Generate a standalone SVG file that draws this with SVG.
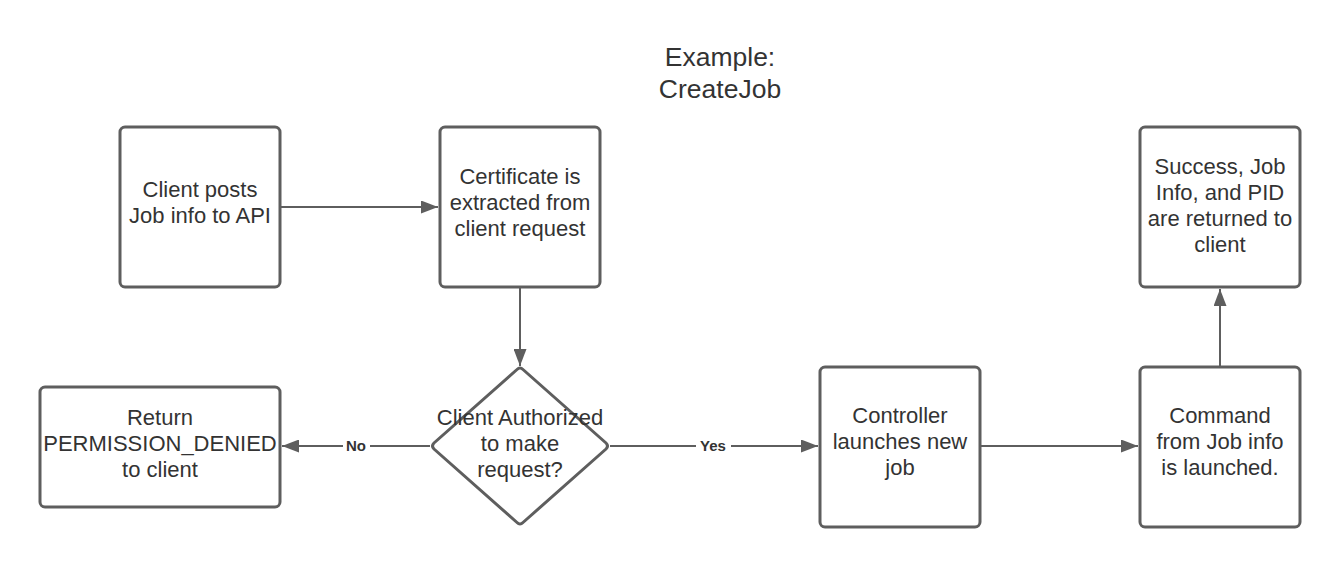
<svg xmlns="http://www.w3.org/2000/svg" width="1340" height="567" viewBox="0 0 1340 567">
<style>
.node{fill:#fff;stroke:#5e5e5e;stroke-width:3}
.t{font-family:"Liberation Sans",Arial,sans-serif;font-size:22px;fill:#333;text-anchor:middle}
.title{font-family:"Liberation Sans",Arial,sans-serif;font-size:26.5px;fill:#333;text-anchor:middle}
.c{stroke:#5e5e5e;stroke-width:2;fill:none;marker-end:url(#ah)}
.lbl{font-family:"Liberation Sans",Arial,sans-serif;font-size:15px;font-weight:bold;fill:#333;text-anchor:middle}
</style>
<defs>
<marker id="ah" viewBox="0 0 10 10" refX="10" refY="5" markerWidth="17" markerHeight="13" markerUnits="userSpaceOnUse" orient="auto" preserveAspectRatio="none">
<path d="M0,0 L10,5 L0,10 z" fill="#5e5e5e"/>
</marker>
</defs>
<rect width="1340" height="567" fill="#fff"/>
<g id="title">
<text class="title" x="720" y="66">Example:</text>
<text class="title" x="720" y="98">CreateJob</text>
</g>
<g id="connectors">
<line class="c" x1="281" y1="207" x2="438" y2="207"/>
<line class="c" x1="520" y1="288" x2="520" y2="366"/>
<line class="c" x1="430" y1="446" x2="282" y2="446"/>
<line class="c" x1="610" y1="446" x2="818" y2="446"/>
<line class="c" x1="981" y1="446" x2="1138" y2="446"/>
<line class="c" x1="1220" y1="366" x2="1220" y2="289"/>
<rect x="343" y="436" width="27" height="18" fill="#fff"/>
<text class="lbl" x="356" y="451">No</text>
<rect x="696" y="436" width="35" height="18" fill="#fff"/>
<text class="lbl" x="713" y="451">Yes</text>
</g>
<g id="n1">
<rect class="node" x="120" y="127" width="160" height="160" rx="5"/>
<text class="t" x="200" y="197">Client posts</text>
<text class="t" x="200" y="223">Job info to API</text>
</g>
<g id="n2">
<rect class="node" x="440" y="127" width="160" height="160" rx="5"/>
<text class="t" x="520" y="184">Certificate is</text>
<text class="t" x="520" y="210">extracted from</text>
<text class="t" x="520" y="236">client request</text>
</g>
<g id="n3">
<path class="node" d="M517,369.5 Q520,366.5 523,369.5 L606,443 Q609,446 606,449 L523,522.5 Q520,525.5 517,522.5 L434,449 Q431,446 434,443 Z"/>
<text class="t" x="520" y="425">Client Authorized</text>
<text class="t" x="520" y="451">to make</text>
<text class="t" x="520" y="477">request?</text>
</g>
<g id="n4">
<rect class="node" x="40" y="387" width="240" height="120" rx="5"/>
<text class="t" x="160" y="425">Return</text>
<text class="t" x="160" y="451">PERMISSION_DENIED</text>
<text class="t" x="160" y="477">to client</text>
</g>
<g id="n5">
<rect class="node" x="820" y="367" width="160" height="160" rx="5"/>
<text class="t" x="900" y="423">Controller</text>
<text class="t" x="900" y="449">launches new</text>
<text class="t" x="900" y="475">job</text>
</g>
<g id="n6">
<rect class="node" x="1140" y="367" width="160" height="160" rx="5"/>
<text class="t" x="1220" y="423">Command</text>
<text class="t" x="1220" y="449">from Job info</text>
<text class="t" x="1220" y="475">is launched.</text>
</g>
<g id="n7">
<rect class="node" x="1140" y="127" width="160" height="160" rx="5"/>
<text class="t" x="1220" y="174">Success, Job</text>
<text class="t" x="1220" y="200">Info, and PID</text>
<text class="t" x="1220" y="226">are returned to</text>
<text class="t" x="1220" y="252">client</text>
</g>
</svg>
